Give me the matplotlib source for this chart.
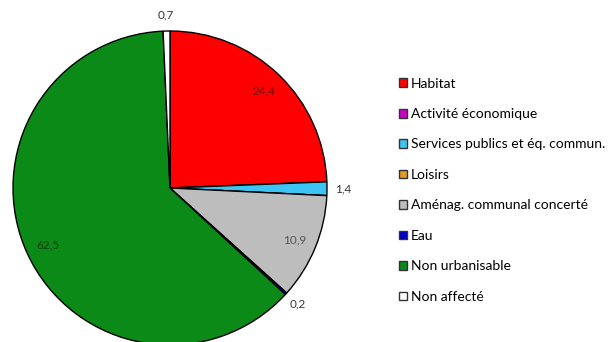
import matplotlib.pyplot as plt
from matplotlib.patches import Patch
import numpy as np

categories = ['Habitat', 'Activité économique', 'Services publics et éq. commun.',
              'Loisirs', 'Aménag. communal concerté', 'Eau', 'Non urbanisable', 'Non affecté']
values = [24.4, 0.0, 1.4, 0.0, 10.9, 0.2, 62.5, 0.7]
value_labels = ['24,4', '', '1,4', '', '10,9', '0,2', '62,5', '0,7']
colors = ['#ff0000', '#cc00cc', '#3cc4f4', '#e39b23', '#bdbdbd', '#0000cc', '#0b8a17', '#ffffff']
inside = [True, False, False, False, True, False, True, False]
label_colors = ['#7a0000', '#333333', '#333333', '#333333', '#555555', '#333333', '#0a3d0a', '#333333']

plt.rcParams['font.family'] = ['Lato', 'DejaVu Sans']

fig = plt.figure(figsize=(6.13, 3.42), dpi=100)
ax = fig.add_axes([13 / 613, -3 / 342, 314 / 613, 314 / 342])
wedges, _ = ax.pie(values, colors=colors, startangle=90, counterclock=False,
                   radius=1, wedgeprops=dict(edgecolor='black', linewidth=1.0))
ax.set_xlim(-1, 1)
ax.set_ylim(-1, 1)
ax.set_aspect('equal')
ax.axis('off')

for w, lab, ins, c in zip(wedges, value_labels, inside, label_colors):
    if not lab:
        continue
    mid = np.deg2rad((w.theta1 + w.theta2) / 2)
    r = 0.86 if ins else 1.1
    ax.text(r * np.cos(mid), r * np.sin(mid), lab, ha='center', va='center',
            fontsize=8.5, color=c, clip_on=False)

handles = [Patch(facecolor=c, edgecolor='#333333', linewidth=1.0) for c in colors]
fig.legend(handles, categories, loc='upper left', bbox_to_anchor=(393 / 613, 1 - 72 / 342),
           frameon=False, fontsize=10, handlelength=0.6, handleheight=0.6,
           handletextpad=0.3, labelspacing=1.33, borderaxespad=0)

fig.savefig('out.png', dpi=100)
